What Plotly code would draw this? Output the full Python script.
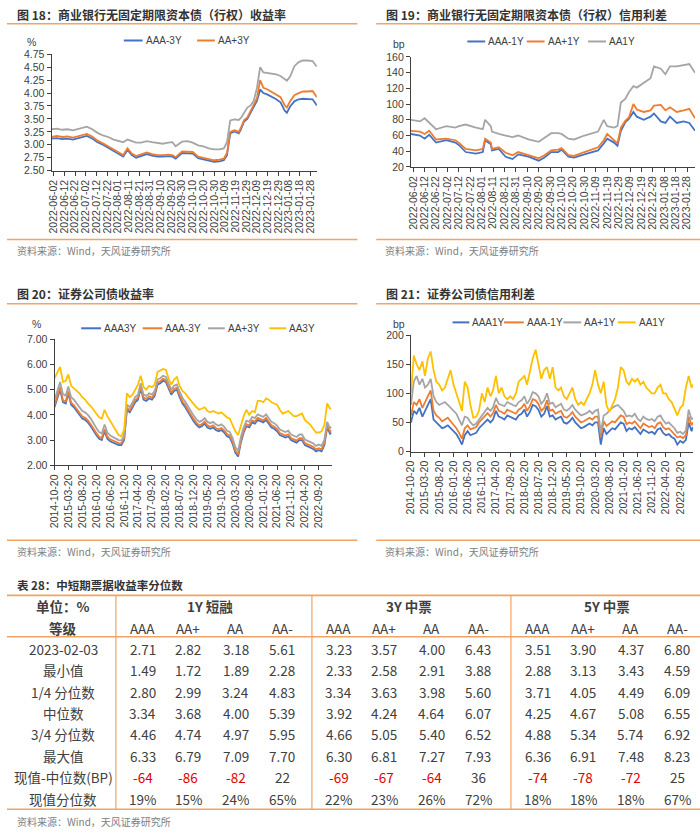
import plotly.graph_objects as go
import pandas as pd

W, H = 700, 835


def PX(x):
    return x / W


def PY(y):
    return 1 - y / H


BLUE, ORANGE, GRAY, YELLOW = '#4472C4', '#ED7D31', '#A5A5A5', '#FFC000'
LINE_OR = '#F2A365'
CJK = 'Noto Sans CJK SC'
LAT = 'Liberation Sans, Arial'

# ---------------- chart 18 data ----------------
dates18 = ['2022-05-31', '2022-06-05', '2022-06-10', '2022-06-15', '2022-06-20', '2022-06-25', '2022-06-30', '2022-07-03', '2022-07-08', '2022-07-13',
           '2022-07-18', '2022-07-23', '2022-07-28', '2022-08-02', '2022-08-06', '2022-08-10', '2022-08-14', '2022-08-18', '2022-08-23', '2022-08-28',
           '2022-09-02', '2022-09-07', '2022-09-12', '2022-09-17', '2022-09-21', '2022-09-24', '2022-09-30', '2022-10-05', '2022-10-10', '2022-10-15',
           '2022-10-20', '2022-10-25', '2022-10-30', '2022-11-04', '2022-11-08', '2022-11-11', '2022-11-14', '2022-11-18', '2022-11-22', '2022-11-24',
           '2022-11-27', '2022-11-30', '2022-12-03', '2022-12-06', '2022-12-09', '2022-12-12', '2022-12-15', '2022-12-19', '2022-12-23', '2022-12-27',
           '2022-12-31', '2023-01-04', '2023-01-06', '2023-01-09', '2023-01-13', '2023-01-17', '2023-01-21', '2023-01-25', '2023-01-30', '2023-02-03']
aaa3y_18 = [3.12, 3.13, 3.11, 3.12, 3.10, 3.13, 3.16, 3.17, 3.12, 3.05,
            3.00, 2.94, 2.88, 2.81, 2.77, 2.90, 2.80, 2.75, 2.78, 2.82,
            2.79, 2.77, 2.77, 2.78, 2.77, 2.73, 2.84, 2.84, 2.83, 2.74,
            2.72, 2.70, 2.67, 2.68, 2.70, 2.80, 3.22, 3.26, 3.22, 3.30,
            3.45, 3.50, 3.62, 3.75, 3.85, 4.07, 4.00, 3.97, 3.93, 3.88,
            3.82, 3.66, 3.62, 3.74, 3.84, 3.88, 3.89, 3.89, 3.88, 3.76]
aap3y_18 = [3.15, 3.17, 3.15, 3.16, 3.14, 3.17, 3.20, 3.21, 3.16, 3.08,
            3.03, 2.97, 2.91, 2.84, 2.80, 2.93, 2.83, 2.78, 2.81, 2.85,
            2.82, 2.80, 2.80, 2.81, 2.80, 2.76, 2.87, 2.87, 2.86, 2.77,
            2.75, 2.73, 2.70, 2.71, 2.73, 2.84, 3.25, 3.28, 3.25, 3.33,
            3.48, 3.53, 3.66, 3.78, 3.90, 4.25, 4.10, 4.07, 4.02, 3.98,
            3.92, 3.76, 3.72, 3.84, 3.96, 4.00, 4.03, 4.03, 4.04, 3.92]
gray3y_18 = [3.30, 3.31, 3.29, 3.30, 3.28, 3.31, 3.34, 3.35, 3.30, 3.23,
             3.18, 3.15, 3.10, 3.07, 3.05, 3.10, 3.07, 3.04, 3.04, 3.07,
             3.05, 3.03, 3.02, 3.04, 3.05, 2.97, 3.06, 3.07, 3.04, 2.99,
             2.97, 2.93, 2.91, 2.91, 2.93, 3.05, 3.47, 3.49, 3.48, 3.52,
             3.62, 3.72, 3.76, 3.85, 4.10, 4.50, 4.40, 4.39, 4.37, 4.36,
             4.33, 4.26, 4.24, 4.32, 4.52, 4.60, 4.63, 4.63, 4.62, 4.51]

# ---------------- chart 19 data ----------------
dates19 = ['2022-05-31', '2022-06-08', '2022-06-12', '2022-06-16', '2022-06-22', '2022-07-01', '2022-07-09', '2022-07-12', '2022-07-18', '2022-07-27',
           '2022-08-02', '2022-08-04', '2022-08-09', '2022-08-10', '2022-08-16', '2022-08-22', '2022-08-28', '2022-09-02', '2022-09-11', '2022-09-20',
           '2022-09-25', '2022-10-01', '2022-10-07', '2022-10-10', '2022-10-16', '2022-10-21', '2022-10-30', '2022-11-05', '2022-11-11', '2022-11-16',
           '2022-11-19', '2022-11-25', '2022-11-28', '2022-12-01', '2022-12-05', '2022-12-08', '2022-12-12', '2022-12-15', '2022-12-21', '2022-12-27',
           '2022-12-30', '2023-01-05', '2023-01-09', '2023-01-13', '2023-01-19', '2023-01-25', '2023-01-30', '2023-02-04']
aaa1y_19 = [62, 60, 56, 61, 51, 54, 51, 48, 39, 37,
            39, 54, 49, 41, 43, 33, 30, 36, 33, 28,
            32, 39, 39, 42, 33, 32, 36, 39, 41, 50,
            56, 51, 47, 66, 77, 81, 90, 84, 80, 84,
            88, 78, 76, 84, 76, 78, 76, 66]
aap1y_19 = [66, 65, 62, 66, 55, 56, 54, 51, 43, 41,
            43, 56, 51, 43, 45, 38, 35, 39, 35, 31,
            35, 41, 42, 44, 35, 34, 39, 42, 45, 54,
            62, 54, 50, 70, 79, 83, 100, 93, 90, 92,
            98, 99, 92, 96, 90, 92, 94, 82]
aa1y_19 = [80, 78, 82, 76, 68, 72, 70, 72, 74, 70,
           68, 80, 72, 65, 62, 60, 58, 60, 55, 52,
           57, 63, 63, 62, 56, 55, 60, 63, 65, 80,
           72, 70, 72, 102, 107, 115, 123, 121, 127, 133,
           148, 145, 138, 148, 148, 150, 151, 140]

ticks_short = ['2022-06-02', '2022-06-12', '2022-06-22', '2022-07-02', '2022-07-12', '2022-07-22', '2022-08-01', '2022-08-11', '2022-08-21',
               '2022-08-31', '2022-09-10', '2022-09-20', '2022-09-30', '2022-10-10', '2022-10-20', '2022-10-30', '2022-11-09', '2022-11-19',
               '2022-11-29', '2022-12-09', '2022-12-19', '2022-12-29', '2023-01-08', '2023-01-18', '2023-01-28']

# ---------------- charts 20 / 21 data (monthly samples) ----------------
dates_long = [d.strftime('%Y-%m-%d') for d in pd.date_range('2014-10-20', periods=100, freq=pd.DateOffset(months=1))] + ['2023-02-03']

aaa3y_20 = [4.30, 4.70, 5.00, 4.50, 4.45, 4.85, 4.40, 4.30, 4.15, 4.00,
            3.85, 3.80, 3.70, 3.55, 3.35, 3.20, 3.05, 3.00, 3.35, 3.05,
            2.95, 2.90, 2.85, 2.80, 2.80, 3.00, 4.20, 4.10, 4.30, 4.50,
            4.60, 5.05, 4.60, 4.55, 4.65, 4.60, 4.75, 5.20, 5.25, 5.35,
            5.30, 5.05, 4.80, 4.95, 5.00, 4.70, 4.45, 4.30, 4.10, 3.95,
            3.75, 3.60, 3.50, 3.55, 3.65, 3.50, 3.45, 3.50, 3.40, 3.35,
            3.40, 3.30, 3.15, 3.10, 2.85, 2.50, 2.35, 2.90, 3.30, 3.55,
            3.50, 3.70, 3.65, 3.80, 3.75, 3.70, 3.80, 3.65, 3.50, 3.45,
            3.35, 3.20, 3.15, 3.10, 3.15, 3.00, 2.95, 2.90, 3.00, 3.00,
            2.80, 2.75, 2.70, 2.65, 2.55, 2.60, 2.55, 2.80, 3.50, 3.25,
            3.30]
aaam3y_20 = [4.38, 4.80, 5.10, 4.58, 4.53, 4.93, 4.48, 4.38, 4.23, 4.08,
             3.93, 3.88, 3.78, 3.63, 3.43, 3.28, 3.13, 3.08, 3.43, 3.13,
             3.03, 2.98, 2.93, 2.88, 2.87, 3.07, 4.27, 4.18, 4.38, 4.58,
             4.68, 5.13, 4.68, 4.63, 4.73, 4.68, 4.83, 5.28, 5.33, 5.43,
             5.38, 5.13, 4.88, 5.03, 5.08, 4.78, 4.53, 4.38, 4.18, 4.03,
             3.83, 3.68, 3.58, 3.63, 3.73, 3.58, 3.53, 3.58, 3.48, 3.43,
             3.48, 3.38, 3.23, 3.18, 2.93, 2.58, 2.43, 2.98, 3.38, 3.63,
             3.58, 3.78, 3.73, 3.88, 3.83, 3.78, 3.88, 3.73, 3.58, 3.53,
             3.43, 3.28, 3.23, 3.18, 3.23, 3.08, 3.03, 2.98, 3.08, 3.08,
             2.88, 2.83, 2.78, 2.73, 2.63, 2.68, 2.63, 2.88, 3.58, 3.33,
             3.38]
aap3y_20 = [4.58, 5.00, 5.30, 4.82, 4.76, 5.12, 4.70, 4.60, 4.45, 4.30,
            4.15, 4.10, 4.00, 3.85, 3.65, 3.48, 3.32, 3.26, 3.62, 3.30,
            3.18, 3.12, 3.06, 3.00, 2.98, 3.18, 4.40, 4.30, 4.50, 4.70,
            4.80, 5.25, 4.80, 4.75, 4.85, 4.80, 4.95, 5.40, 5.45, 5.55,
            5.50, 5.25, 5.00, 5.15, 5.20, 4.92, 4.67, 4.52, 4.32, 4.17,
            3.97, 3.82, 3.72, 3.77, 3.87, 3.72, 3.67, 3.72, 3.62, 3.57,
            3.62, 3.52, 3.37, 3.32, 3.07, 2.72, 2.57, 3.12, 3.52, 3.77,
            3.72, 3.92, 3.87, 4.02, 3.97, 3.92, 4.02, 3.87, 3.72, 3.67,
            3.57, 3.42, 3.37, 3.32, 3.37, 3.22, 3.17, 3.12, 3.22, 3.22,
            3.02, 2.97, 2.92, 2.87, 2.77, 2.82, 2.77, 3.02, 3.72, 3.47,
            3.52]
aa3y_20 = [5.45, 5.70, 5.90, 5.30, 5.35, 5.60, 5.15, 5.05, 4.95, 4.85,
           4.70, 4.60, 4.45, 4.35, 4.20, 4.05, 3.90, 3.85, 4.20, 3.95,
           3.75, 3.55, 3.35, 3.20, 3.15, 3.40, 4.85, 4.70, 4.80, 5.00,
           5.20, 5.55, 5.10, 5.00, 5.15, 5.10, 5.20, 5.70, 5.75, 5.82,
           5.78, 5.45, 5.20, 5.40, 5.50, 5.15, 4.95, 4.85, 4.70, 4.55,
           4.45, 4.30, 4.20, 4.25, 4.30, 4.15, 4.10, 4.15, 4.10, 4.05,
           4.10, 4.00, 3.90, 3.85, 3.60, 3.35, 3.20, 3.60, 3.95, 4.20,
           4.00, 4.15, 4.10, 4.55, 4.55, 4.50, 4.65, 4.60, 4.50, 4.45,
           4.40, 4.20, 4.05, 4.10, 4.15, 4.05, 3.95, 3.95, 4.00, 4.05,
           3.80, 3.70, 3.60, 3.45, 3.30, 3.30, 3.35, 3.60, 4.45, 4.25,
           4.25]

aaa1y_21 = [50, 70, 65, 75, 60, 70, 80, 90, 55, 50,
            45, 40, 42, 45, 40, 35, 30, 22, 12, 28,
            35, 28, 30, 32, 40, 45, 50, 55, 50, 55,
            70, 60, 58, 55, 62, 60, 58, 55, 62, 65,
            72, 60, 68, 80, 78, 72, 60, 65, 78, 60,
            62, 55, 58, 60, 50, 48, 52, 58, 50, 45,
            40, 42, 45, 48, 45, 50, 50, 12, 40, 30,
            35, 40, 38, 45, 50, 48, 35, 40, 38, 42,
            35, 30, 38, 35, 32, 34, 30, 38, 40, 32,
            28, 30, 25, 22, 12, 18, 15, 20, 50, 35,
            42]
aaam1y_21 = [62, 85, 80, 90, 75, 85, 95, 105, 70, 62,
             58, 52, 55, 58, 52, 46, 40, 32, 22, 40,
             45, 38, 40, 42, 50, 55, 60, 66, 60, 66,
             80, 70, 68, 65, 72, 70, 68, 65, 72, 75,
             82, 70, 78, 90, 88, 82, 70, 75, 88, 70,
             72, 65, 68, 70, 60, 58, 62, 68, 60, 55,
             50, 52, 55, 58, 55, 60, 60, 25, 52, 44,
             48, 52, 50, 57, 62, 60, 47, 50, 48, 52,
             45, 40, 48, 45, 42, 44, 40, 48, 50, 42,
             38, 40, 35, 30, 24, 26, 23, 28, 60, 45,
             50]
aap1y_21 = [80, 120, 130, 115, 125, 110, 115, 125, 95, 85,
            80, 82, 85, 80, 75, 70, 65, 55, 45, 60,
            58, 50, 45, 48, 55, 62, 70, 75, 70, 76,
            92, 82, 80, 78, 85, 82, 80, 78, 85, 88,
            95, 82, 90, 102, 100, 95, 82, 88, 100, 82,
            84, 76, 80, 82, 72, 70, 74, 80, 72, 66,
            62, 64, 66, 70, 65, 70, 72, 32, 62, 65,
            70, 75, 78, 80, 75, 70, 60, 62, 60, 65,
            56, 52, 60, 56, 54, 56, 52, 60, 62, 54,
            48, 50, 45, 40, 32, 34, 30, 36, 72, 55,
            58]
aa1y_21 = [100, 165, 150, 140, 155, 130, 160, 172, 140, 120,
           115, 105, 110, 125, 140, 115, 100, 85, 70, 120,
           110, 80, 58, 60, 70, 100, 85, 110, 95, 105,
           130, 100, 110, 95, 90, 95, 90, 100, 120, 125,
           130, 115, 140, 160, 175, 150, 125, 140, 145, 125,
           145, 110, 105, 110, 95, 90, 100, 110, 90, 80,
           85, 80, 90, 100, 115, 140, 115, 100, 120, 80,
           68, 80, 90, 110, 145, 140, 120, 115, 125, 120,
           125, 115, 120, 110, 105, 100, 100, 110, 115, 100,
           100, 90, 85, 75, 62, 75, 80, 110, 130, 110,
           115]

ticks_long = ['2014-10-20', '2015-03-20', '2015-08-20', '2016-01-20', '2016-06-20', '2016-11-20', '2017-04-20', '2017-09-20',
              '2018-02-20', '2018-07-20', '2018-12-20', '2019-05-20', '2019-10-20', '2020-03-20', '2020-08-20', '2021-01-20',
              '2021-06-20', '2021-11-20', '2022-04-20', '2022-09-20']

# ---------------- table data ----------------
tbl_groups = ['1Y 短融', '3Y 中票', '5Y 中票']
tbl_grades = ['AAA', 'AA+', 'AA', 'AA-']
tbl_rows = ['2023-02-03', '最小值', '1/4 分位数', '中位数', '3/4 分位数', '最大值', '现值-中位数(BP)', '现值分位数']
tbl_vals = [
    ['2.71', '2.82', '3.18', '5.61', '3.23', '3.57', '4.00', '6.43', '3.51', '3.90', '4.37', '6.80'],
    ['1.49', '1.72', '1.89', '2.28', '2.33', '2.58', '2.91', '3.88', '2.88', '3.13', '3.43', '4.59'],
    ['2.80', '2.99', '3.24', '4.83', '3.34', '3.63', '3.98', '5.60', '3.71', '4.05', '4.49', '6.09'],
    ['3.34', '3.68', '4.00', '5.39', '3.92', '4.24', '4.64', '6.07', '4.25', '4.67', '5.08', '6.55'],
    ['4.46', '4.74', '4.97', '5.95', '4.66', '5.05', '5.40', '6.52', '4.88', '5.34', '5.74', '6.92'],
    ['6.33', '6.79', '7.09', '7.70', '6.30', '6.81', '7.27', '7.93', '6.36', '6.91', '7.48', '8.23'],
    ['-64', '-86', '-82', '22', '-69', '-67', '-64', '36', '-74', '-78', '-72', '25'],
    ['19%', '15%', '24%', '65%', '22%', '23%', '26%', '72%', '18%', '18%', '18%', '67%'],
]

for s in (aaa3y_18, aap3y_18, gray3y_18):
    assert len(s) == len(dates18)
for s in (aaa1y_19, aap1y_19, aa1y_19):
    assert len(s) == len(dates19)
for s in (aaa3y_20, aaam3y_20, aap3y_20, aa3y_20, aaa1y_21, aaam1y_21, aap1y_21, aa1y_21):
    assert len(s) == len(dates_long), len(s)

fig = go.Figure()

charts = [
    ('', dates18, [('AAA-3Y', aaa3y_18, BLUE), ('AA+3Y', aap3y_18, ORANGE), ('', gray3y_18, GRAY)]),
    ('2', dates19, [('AAA-1Y', aaa1y_19, BLUE), ('AA+1Y', aap1y_19, ORANGE), ('AA1Y', aa1y_19, GRAY)]),
    ('3', dates_long, [('AAA3Y', aaa3y_20, BLUE), ('AAA-3Y', aaam3y_20, ORANGE), ('AA+3Y', aap3y_20, GRAY), ('AA3Y', aa3y_20, YELLOW)]),
    ('4', dates_long, [('AAA1Y', aaa1y_21, BLUE), ('AAA-1Y', aaam1y_21, ORANGE), ('AA+1Y', aap1y_21, GRAY), ('AA1Y', aa1y_21, YELLOW)]),
]
for suf, xs, series in charts:
    for name, vals, col in series:
        fig.add_trace(go.Scatter(x=xs, y=vals, mode='lines', name=name or 'AA3Y',
                                 line=dict(color=col, width=1.8), showlegend=False,
                                 xaxis='x' + suf, yaxis='y' + suf, hoverinfo='skip'))

base = dict(showline=True, linecolor='#404040', linewidth=1, ticks='outside', tickcolor='#404040',
            ticklen=4, tickwidth=1, showgrid=False, zeroline=False, fixedrange=True)


def xax(dom, rng, ticks, anchor):
    return dict(base, domain=[PX(dom[0]), PX(dom[1])], type='date', range=rng, tickmode='array',
                tickvals=ticks, ticktext=ticks, tickangle=-90, anchor=anchor,
                tickfont=dict(family=LAT, size=10.5, color='#404040'))


def yax(dom, rng, dtick, fmt, anchor):
    return dict(base, domain=[PY(dom[1]), PY(dom[0])], range=rng, dtick=dtick, tick0=rng[0],
                tickformat=fmt, anchor=anchor, tickfont=dict(family=LAT, size=10.5, color='#404040'))


fig.update_layout(
    xaxis=xax((45, 313), ['2022-05-31', '2023-02-03'], ticks_short, 'y'),
    yaxis=yax((49, 167), [2.5, 4.75], 0.25, '.2f', 'x'),
    xaxis2=xax((408, 695), ['2022-05-31', '2023-02-04'], ticks_short, 'y2'),
    yaxis2=yax((51.7, 163.3), [20, 160], 20, 'd', 'x2'),
    xaxis3=xax((48, 328), ['2014-10-20', '2023-02-08'], ticks_long, 'y3'),
    yaxis3=yax((338, 466), [2, 7], 1, '.2f', 'x3'),
    xaxis4=xax((408, 693), ['2014-10-20', '2023-02-05'], ticks_long, 'y4'),
    yaxis4=yax((334, 452), [0, 200], 50, 'd', 'x4'),
)

shapes = []
annos = []


def hline(x0, x1, y, color=LINE_OR, w=1.5):
    shapes.append(dict(type='line', xref='paper', yref='paper', x0=PX(x0), x1=PX(x1), y0=PY(y), y1=PY(y),
                       line=dict(color=color, width=w)))


def vline(x, y0, y1, color=LINE_OR, w=1.2):
    shapes.append(dict(type='line', xref='paper', yref='paper', x0=PX(x), x1=PX(x), y0=PY(y0), y1=PY(y1),
                       line=dict(color=color, width=w)))


def text(x, y, s, size=11, color='#333333', family=CJK, xanchor='left'):
    annos.append(dict(x=PX(x), y=PY(y), xref='paper', yref='paper', text=s, showarrow=False,
                      xanchor=xanchor, yanchor='middle', font=dict(family=family, size=size, color=color)))


for y in (18, 237, 302, 542):
    hline(0, 354, y)
    hline(373, 700, y)

text(8, 9, '<b>图 18：商业银行无固定期限资本债（行权）收益率</b>', 12)
text(381, 9, '<b>图 19：商业银行无固定期限资本债（行权）信用利差</b>', 12)
text(8, 292, '<b>图 20：证券公司债收益率</b>', 12)
text(381, 292, '<b>图 21：证券公司债信用利差</b>', 12)

src = '资料来源：Wind，天风证券研究所'
for x, y in ((8, 248), (380, 248), (8, 553), (380, 553), (8, 827)):
    text(x, y, src, 10, '#808080')

text(25, 37, '%', 10.5, '#404040', LAT, 'center')
text(396, 39, 'bp', 10.5, '#404040', LAT, 'center')
text(30, 323, '%', 10.5, '#404040', LAT, 'center')
text(396, 323, 'bp', 10.5, '#404040', LAT, 'center')

legend_pos = [
    (35, [(118, 137), (192, 210)]),
    (36, [(465, 483), (525, 543), (587, 605)]),
    (327, [(75, 95), (137, 157), (203, 220), (265, 282)]),
    (321, [(450, 467), (502, 522), (562, 580), (617, 635)]),
]
for (suf, xs, series), (ly, spots) in zip(charts, legend_pos):
    for (name, vals, col), (x0, x1) in zip(series, spots):
        hline(x0, x1, ly, col, 2)
        text(x1 + 1, ly, name, 10, '#404040', LAT)

# ---------------- table ----------------
text(8, 587, '<b>表 28：中短期票据收益率分位数</b>', 11.5)
hline(0, 700, 598, LINE_OR, 1.6)
hline(0, 700, 640, LINE_OR, 1.6)
hline(0, 700, 815, LINE_OR, 1.6)
group_x = [110, 308, 509]
for gx in group_x:
    vline(gx, 598, 815)
col_off = [27, 73, 121, 168]
col_x = [gx + o for gx in group_x for o in col_off]
TC = '#404040'
text(57, 609, '<b>单位：%</b>', 13.5, TC, CJK, 'center')
text(57, 631, '<b>等级</b>', 13.5, TC, CJK, 'center')
grp_cx = [205, 406, 606]
for g, cx in zip(tbl_groups, grp_cx):
    text(cx, 609, '<b>' + g + '</b>', 13.5, TC, CJK, 'center')
for i, cx in enumerate(col_x):
    text(cx, 631, tbl_grades[i % 4], 13.5, TC, CJK, 'center')
for r, (lab, vals) in enumerate(zip(tbl_rows, tbl_vals)):
    ry = 652 + 21.75 * r
    text(57, ry, lab, 13.5, TC, CJK, 'center')
    for cx, v in zip(col_x, vals):
        col = '#E00000' if v.startswith('-') else TC
        text(cx, ry, v, 13.5, col, CJK, 'center')

fig.update_layout(width=W, height=H, margin=dict(l=0, r=0, t=0, b=0), paper_bgcolor='white',
                  plot_bgcolor='white', showlegend=False, shapes=shapes, annotations=annos)
fig.write_html('out.html', config={'displayModeBar': False},
               post_script="document.body.style.margin='0';document.body.style.overflow='hidden';")
